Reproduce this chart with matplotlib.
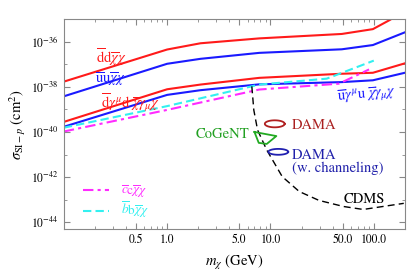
import numpy as np
import matplotlib
matplotlib.use("Agg")
import matplotlib.pyplot as plt
from matplotlib.ticker import LogLocator, NullFormatter

plt.rcParams["font.family"] = ["STIXGeneral", "DejaVu Sans"]
plt.rcParams["mathtext.fontset"] = "stix"

# operator curves: dark matter mass (GeV) and cross section (cm^2)
m_dd = [0.1, 1.0, 2.1, 7.8, 49, 98, 145, 200]
sig_dd = [1.7e-38, 4.5e-37, 8.5e-37, 1.4e-36, 2.2e-36, 3.6e-36, 9.5e-36, 3e-35]

m_uu = [0.1, 1.0, 2.1, 7.8, 49, 98, 200]
sig_uu = [3.8e-39, 1.05e-37, 1.74e-37, 3.2e-37, 4.6e-37, 7.1e-37, 2.6e-36]

m_dvec = [0.1, 1.0, 2.1, 7.8, 49, 98, 200]
sig_dvec = [2.8e-40, 7.8e-39, 1.26e-38, 2.5e-38, 3.8e-38, 4.2e-38, 1.1e-37]

m_uvec = [0.1, 1.0, 2.1, 7.8, 49, 98, 200]
sig_uvec = [1.7e-40, 4.4e-39, 7.1e-39, 1.29e-38, 1.62e-38, 1.95e-38, 4.2e-38]

m_bb = [0.1, 1.0, 7.8, 35, 100]
sig_bb = [1.55e-40, 1.4e-39, 1.26e-38, 2.3e-38, 1.45e-37]

m_cc = [0.1, 1.0, 7.8, 46, 90]
sig_cc = [1.05e-40, 9.5e-40, 7.6e-39, 1.38e-38, 5.9e-38]

# CDMS exclusion
m_cdms = [6.6, 6.9, 7.5, 9.2, 13.0, 19.0, 29.5, 51.0, 79.0, 195.0]
sig_cdms = [1.05e-38, 9.3e-40, 1.23e-40, 1.6e-41, 1.05e-42, 2.3e-43, 9.3e-44, 5.0e-44, 3.7e-44, 6.9e-44]

# CoGeNT region outline
m_cogent = [7.0, 11.4, 9.2, 7.7, 7.0]
sig_cogent = [1.0e-40, 6.6e-41, 2.95e-41, 3.3e-41, 1.0e-40]

# DAMA ellipses: centre mass, centre sigma, half-widths in decades
dama = (11.0, 2.3e-40, 0.096, 0.155)
dama_ch = (11.9, 1.32e-41, 0.096, 0.13)

fig = plt.figure(figsize=(4.09, 2.77), dpi=100)
ax = fig.add_axes([0.156, 0.173, 0.834, 0.758])

lw = 1.5
ax.plot(m_dd, sig_dd, color="#ff1a1a", lw=lw)
ax.plot(m_uu, sig_uu, color="#1a1aff", lw=lw)
ax.plot(m_dvec, sig_dvec, color="#ff1a1a", lw=lw)
ax.plot(m_uvec, sig_uvec, color="#1a1aff", lw=lw)
ax.plot(m_cc, sig_cc, color="#ff2bff", lw=lw, ls=(0, (5, 2, 1.5, 2)),
        label=r"$\overline{c}\mathrm{c}\overline{\chi}\chi$")
ax.plot(m_bb, sig_bb, color="#33f0f0", lw=lw, ls=(0, (4, 2)),
        label=r"$\overline{b}\mathrm{b}\overline{\chi}\chi$")
ax.plot(m_cdms, sig_cdms, color="black", lw=1.0, ls=(0, (5, 3)))
ax.plot(m_cogent, sig_cogent, color="#22aa22", lw=1.3)

t = np.linspace(0, 2 * np.pi, 100)
for (mc, sc, wx, wy), col in [(dama, "#b02020"), (dama_ch, "#2020b0")]:
    ex = 10 ** (np.log10(mc) + wx * np.cos(t))
    ey = 10 ** (np.log10(sc) + wy * np.sin(t))
    ax.plot(ex, ey, color=col, lw=1.3)

fs = 10.5
ax.text(0.29, 2.0e-37, r"$\overline{\mathrm{d}}\mathrm{d}\overline{\chi}\chi$",
        color="#ff1a1a", fontsize=fs, ha="center", va="center")
ax.text(0.28, 2.1e-38, r"$\overline{\mathrm{u}}\mathrm{u}\overline{\chi}\chi$",
        color="#1a1aff", fontsize=fs, ha="center", va="center")
ax.text(0.44, 1.9e-39, r"$\overline{\mathrm{d}}\gamma^{\mu}\mathrm{d}\ \overline{\chi}\gamma_{\mu}\chi$",
        color="#ff1a1a", fontsize=fs, ha="center", va="center")
ax.text(85, 4.5e-39, r"$\overline{\mathrm{u}}\gamma^{\mu}\mathrm{u}\ \overline{\chi}\gamma_{\mu}\chi$",
        color="#1a1aff", fontsize=fs, ha="center", va="center", rotation=5)
ax.text(3.4, 8.1e-41, "CoGeNT", color="#22a022", fontsize=fs, ha="center", va="center")
ax.text(16.2, 1.95e-40, "DAMA", color="#aa2020", fontsize=fs, ha="left", va="center")
ax.text(16.2, 1.9e-41, "DAMA\n(w. channeling)", color="#2020aa", fontsize=fs,
        ha="left", va="top", linespacing=0.95)
ax.text(81, 1.0e-43, "CDMS", color="black", fontsize=fs, ha="center", va="center")

ax.set_xscale("log")
ax.set_yscale("log")
ax.set_xlim(0.1, 200)
ax.set_ylim(5e-45, 1e-35)

ax.set_xticks([0.5, 1, 5, 10, 50, 100])
ax.set_xticklabels(["0.5", "1.0", "5.0", "10.0", "50.0", "100.0"])
ax.xaxis.set_minor_locator(LogLocator(base=10, subs=np.arange(2, 10)))
ax.xaxis.set_minor_formatter(NullFormatter())
ax.set_yticks([1e-44, 1e-42, 1e-40, 1e-38, 1e-36])
ax.set_yticks([1e-43, 1e-41, 1e-39, 1e-37], minor=True)
ax.yaxis.set_minor_formatter(NullFormatter())

for s in ax.spines.values():
    s.set_color("#888888")
ax.tick_params(which="both", direction="in", top=True, right=True,
               color="#888888", labelsize=8.5)
ax.tick_params(which="major", length=4)
ax.tick_params(which="minor", length=2)

ax.set_xlabel(r"$m_{\chi}$ (GeV)", fontsize=10.5, labelpad=5)
ax.set_ylabel(r"$\sigma_{\mathrm{SI}-p}$ (cm$^2$)", fontsize=10.5, labelpad=2)

ax.legend(loc="lower left", bbox_to_anchor=(0.02, -0.015), frameon=False,
          fontsize=9.5, handlelength=2.0, handletextpad=0.9, labelspacing=0.0,
          borderpad=0.4, labelcolor="linecolor")

fig.savefig("out.png", dpi=100)
